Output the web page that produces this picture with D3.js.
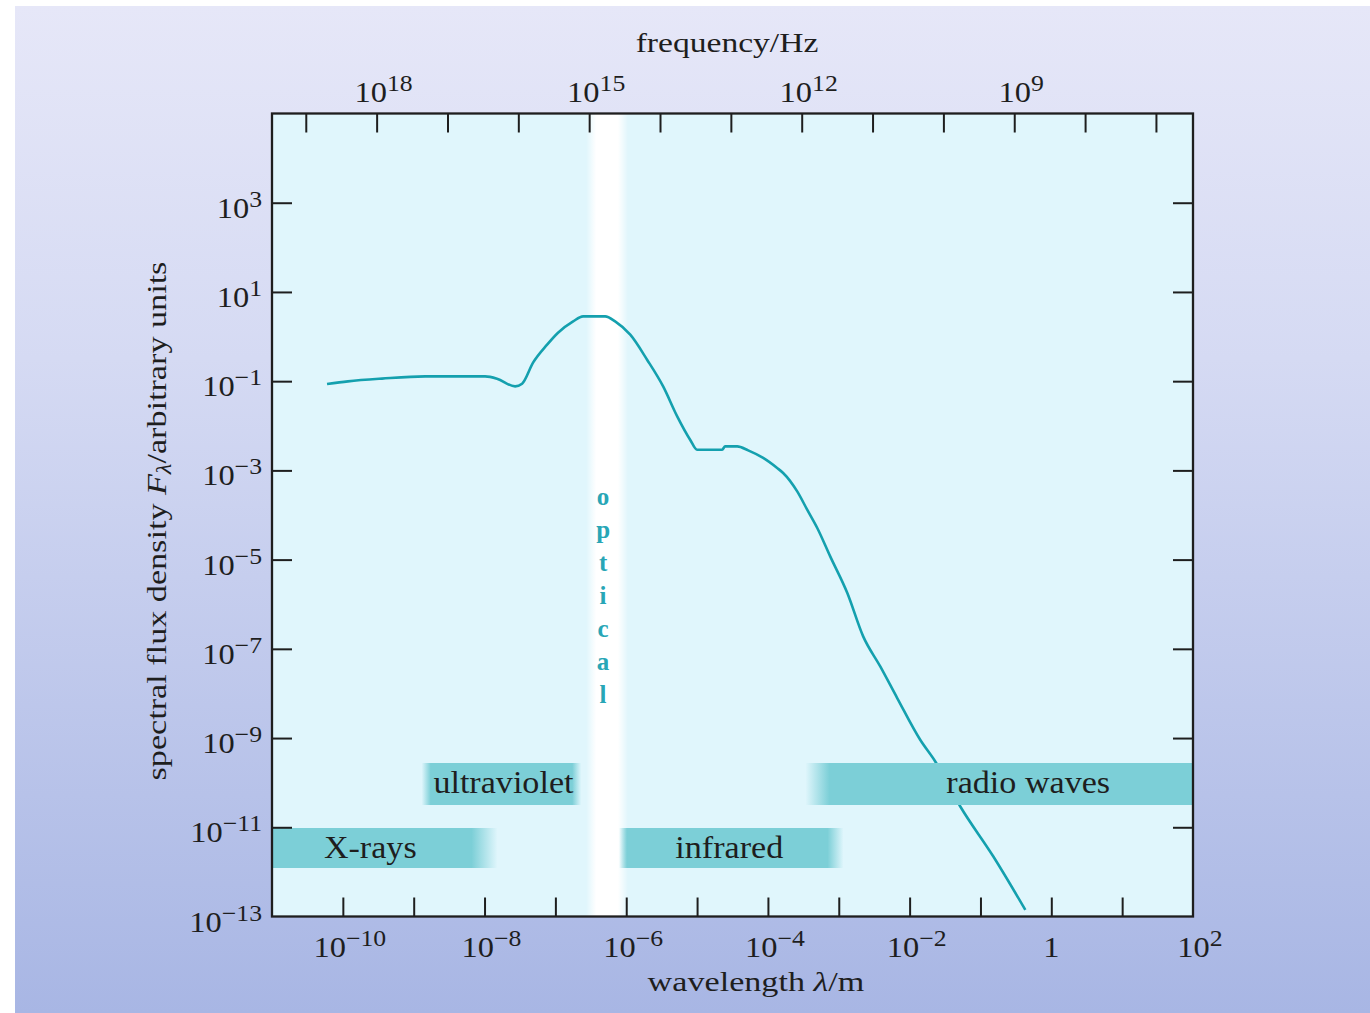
<!DOCTYPE html>
<html>
<head>
<meta charset="utf-8">
<script src="https://cdn.jsdelivr.net/npm/d3@7"></script>
<style>
  html, body { margin: 0; padding: 0; background: #ffffff; }
  svg { display: block; }
</style>
</head>
<body>
<svg id="chart" width="1370" height="1013"></svg>
<script>
// Spectral energy distribution: wavelength (m) against spectral flux density (arbitrary units)
const wavelength = [
  5.98e-11, 1.18e-10, 3.57e-10, 1.45e-9, 1.02e-8, 1.50e-8, 2.70e-8, 3.39e-8,
  4.84e-8, 7.64e-8, 1.09e-7, 1.78e-7, 2.46e-7, 5.04e-7, 6.97e-7, 1.14e-6,
  1.97e-6, 3.32e-6, 5.24e-6, 7.98e-6, 1.00e-5, 2.26e-5, 2.49e-5, 3.68e-5,
  5.26e-5, 8.57e-5, 1.35e-4, 1.64e-4, 2.59e-4, 3.58e-4, 4.97e-4, 7.57e-4,
  1.32e-3, 2.21e-3, 3.85e-3, 6.68e-3, 1.41e-2, 2.30e-2, 5.19e-2, 0.152, 0.430
];
const flux = [
  0.0865, 0.0991, 0.114, 0.128, 0.128, 0.114, 0.0764, 0.0877,
  0.260, 0.658, 1.22, 2.19, 2.84, 2.84, 2.19, 1.10,
  0.303, 0.0764, 0.0163, 4.88e-3, 2.91e-3, 2.91e-3, 3.45e-3, 3.45e-3,
  2.81e-3, 1.90e-3, 1.13e-3, 8.75e-4, 3.38e-4, 1.32e-4, 5.12e-5, 1.18e-5,
  1.78e-6, 1.90e-7, 4.03e-8, 7.89e-9, 9.16e-10, 2.99e-10, 2.92e-11, 2.21e-12, 1.41e-13
];

// Named regions of the spectrum (wavelength limits in m)
const bandNames = ["X-rays", "ultraviolet", "infrared", "radio waves"];
const bandFrom  = [1e-11, 1.5e-9, 9e-7, 5e-4];
const bandTo    = [1e-8, 2e-7, 9e-4, 1e2];
const opticalRange = [3.2e-7, 9e-7];
const opticalName = "optical";

// Axis ticks
const wavelengthDomain = [1e-11, 1e2];
const fluxDomain = [1e-13, 1e5];
const wavelengthTicks = [1e-10, 1e-9, 1e-8, 1e-7, 1e-6, 1e-5, 1e-4, 1e-3, 1e-2, 1e-1, 1, 10];
const wavelengthLabels = [1e-10, 1e-8, 1e-6, 1e-4, 1e-2, 1, 1e2];
const fluxTicks = [1e3, 1e1, 1e-1, 1e-3, 1e-5, 1e-7, 1e-9, 1e-11];
const fluxLabels = [1e3, 1e1, 1e-1, 1e-3, 1e-5, 1e-7, 1e-9, 1e-11, 1e-13];
const frequencyTicks = [1e19, 1e18, 1e17, 1e16, 1e15, 1e14, 1e13, 1e12, 1e11, 1e10, 1e9, 1e8, 1e7];
const frequencyLabels = [1e18, 1e15, 1e12, 1e9];
const SPEED_OF_LIGHT = 2.998e8;

// ---------------------------------------------------------------------------
const svg = d3.select("#chart");
const W = 1370, H = 1013;
const margin = { left: 272, top: 113.5, right: 1370 - 1193, bottom: 1013 - 916.5 };
const pw = W - margin.left - margin.right;
const ph = H - margin.top - margin.bottom;

const serif = "'Liberation Serif', 'Times New Roman', serif";
const ink = "#1e1e1e";
const teal = "#7ccfd7";
const curveColour = "#14a0ae";

const defs = svg.append("defs");

// Panel background
const bg = defs.append("linearGradient").attr("id", "panelGrad")
  .attr("x1", 0).attr("y1", 0).attr("x2", 0).attr("y2", 1);
bg.append("stop").attr("offset", 0).attr("stop-color", "#e6e7f8");
bg.append("stop").attr("offset", 0.35).attr("stop-color", "#d5daf3");
bg.append("stop").attr("offset", 1).attr("stop-color", "#a8b6e4");
svg.append("rect").attr("x", 15).attr("y", 6).attr("width", W - 15).attr("height", H - 6)
  .attr("fill", "url(#panelGrad)");

const x = d3.scaleLog().domain(wavelengthDomain).range([0, pw]);
const y = d3.scaleLog().domain(fluxDomain).range([ph, 0]);
const nu = d3.scaleLog()
  .domain([SPEED_OF_LIGHT / wavelengthDomain[0], SPEED_OF_LIGHT / wavelengthDomain[1]])
  .range([0, pw]);

const g = svg.append("g").attr("transform", `translate(${margin.left},${margin.top})`);

defs.append("clipPath").attr("id", "plotClip")
  .append("rect").attr("width", pw).attr("height", ph);

g.append("rect").attr("width", pw).attr("height", ph).attr("fill", "#e0f6fc");

const plot = g.append("g").attr("clip-path", "url(#plotClip)");

// Horizontal strip with soft ends
function softStrip(id, x0, x1, fadeL, fadeR, colour) {
  const a = x0 - fadeL / 2, b = x1 + fadeR / 2, w = b - a;
  const grad = defs.append("linearGradient").attr("id", id)
    .attr("gradientUnits", "userSpaceOnUse")
    .attr("x1", a).attr("y1", 0).attr("x2", b).attr("y2", 0);
  grad.append("stop").attr("offset", 0).attr("stop-color", colour).attr("stop-opacity", fadeL > 0 ? 0 : 1);
  grad.append("stop").attr("offset", fadeL / w).attr("stop-color", colour).attr("stop-opacity", 1);
  grad.append("stop").attr("offset", 1 - fadeR / w).attr("stop-color", colour).attr("stop-opacity", 1);
  grad.append("stop").attr("offset", 1).attr("stop-color", colour).attr("stop-opacity", fadeR > 0 ? 0 : 1);
  return { a, w };
}

// Optical window
const opt = softStrip("optGrad", x(opticalRange[0]), x(opticalRange[1]), 10, 10, "#ffffff");
plot.append("rect").attr("x", opt.a).attr("y", 0).attr("width", opt.w).attr("height", ph)
  .attr("fill", "url(#optGrad)");

// Spectrum curve
const line = d3.line()
  .x((d, i) => x(wavelength[i]))
  .y((d, i) => y(flux[i]))
  .curve(d3.curveMonotoneX);
plot.append("path").datum(wavelength)
  .attr("d", line)
  .attr("fill", "none")
  .attr("stroke", curveColour)
  .attr("stroke-width", 2.6)
  .attr("stroke-linejoin", "round");

// Region bars
const bandRow = [1, 0, 1, 0];
const rowTop = [649.5, 714.5], rowHeight = [42, 40];
const fades = [[0, 26], [9, 9], [8, 16], [24, 0]];
const labelShift = [-8, 2, 0, 23];
const rowBaseline = [679.5, 744.5];

bandNames.forEach((name, i) => {
  const x0 = x(bandFrom[i]), x1 = x(bandTo[i]);
  const s = softStrip("band" + i, x0, x1, fades[i][0], fades[i][1], teal);
  plot.append("rect").attr("x", s.a).attr("y", rowTop[bandRow[i]])
    .attr("width", s.w).attr("height", rowHeight[bandRow[i]])
    .attr("fill", `url(#band${i})`);
});

function stretchedText(parent, tx, ty, sx, rot) {
  return parent.append("g")
    .attr("transform", `translate(${tx},${ty}) rotate(${rot}) scale(${sx},1)`)
    .append("text")
    .attr("text-anchor", "middle")
    .attr("font-family", serif)
    .attr("fill", ink);
}

bandNames.forEach((name, i) => {
  const cx = (x(bandFrom[i]) + x(bandTo[i])) / 2 + labelShift[i];
  stretchedText(g, cx, rowBaseline[bandRow[i]], 1.1, 0)
    .attr("font-size", 31)
    .text(name);
});

// Vertical "optical" lettering
const optCx = (x(opticalRange[0]) + x(opticalRange[1])) / 2 - 4;
opticalName.split("").forEach((ch, i) => {
  g.append("text")
    .attr("x", optCx).attr("y", 505 - margin.top + i * 33)
    .attr("text-anchor", "middle")
    .attr("font-family", serif)
    .attr("font-weight", "bold")
    .attr("font-size", 25)
    .attr("fill", "#28a6b6")
    .text(ch);
});

// Frame and ticks
g.append("rect").attr("width", pw).attr("height", ph)
  .attr("fill", "none").attr("stroke", ink).attr("stroke-width", 2.3);

function styleAxis(sel) {
  sel.select(".domain").remove();
  sel.selectAll(".tick line").attr("stroke", ink).attr("stroke-width", 2);
  sel.selectAll(".tick text").remove();
}
g.append("g").attr("transform", `translate(0,${ph})`)
  .call(d3.axisBottom(x).tickValues(wavelengthTicks).tickSize(-19).tickFormat(""))
  .call(styleAxis);
g.append("g")
  .call(d3.axisTop(nu).tickValues(frequencyTicks).tickSize(-19).tickFormat(""))
  .call(styleAxis);
g.append("g")
  .call(d3.axisLeft(y).tickValues(fluxTicks).tickSize(-20).tickFormat(""))
  .call(styleAxis);
g.append("g").attr("transform", `translate(${pw},0)`)
  .call(d3.axisRight(y).tickValues(fluxTicks).tickSize(-20).tickFormat(""))
  .call(styleAxis);

// Power-of-ten labels
function powerLabel(parent, v, px, py, anchor) {
  const e = Math.round(Math.log10(v));
  const t = parent.append("g")
    .attr("transform", `translate(${px},${py}) scale(1.12,1)`)
    .append("text")
    .attr("text-anchor", anchor)
    .attr("font-family", serif)
    .attr("font-size", 29)
    .attr("fill", ink);
  if (e === 0) { t.text("1"); return t; }
  t.append("tspan").text("10");
  t.append("tspan").attr("dy", -11).attr("font-size", 23)
    .text(String(e).replace("-", "\u2212"));
  return t;
}

wavelengthLabels.forEach(v => {
  const e = Math.round(Math.log10(v));
  powerLabel(g, v, x(v) + (e === 0 ? 0 : 7), 956.5 - margin.top, "middle");
});
frequencyLabels.forEach(v => {
  powerLabel(g, v, nu(v) + 7, 101.5 - margin.top, "middle");
});
fluxLabels.forEach(v => {
  powerLabel(g, v, 262 - margin.left, y(v) + 15, "end");
});

// Axis titles
stretchedText(svg, 727, 51.5, 1.2, 0).attr("font-size", 28).text("frequency/Hz");

const xt = stretchedText(svg, 756, 991, 1.22, 0).attr("font-size", 28);
xt.append("tspan").text("wavelength ");
xt.append("tspan").attr("font-style", "italic").text("\u03bb");
xt.append("tspan").text("/m");

const yt = stretchedText(svg, 166, 521, 1.22, -90).attr("font-size", 28);
yt.append("tspan").text("spectral flux density ");
yt.append("tspan").attr("font-style", "italic").text("F");
yt.append("tspan").attr("font-style", "italic").attr("font-size", 20).attr("dy", 5).text("\u03bb");
yt.append("tspan").attr("dy", -5).text("/arbitrary units");
</script>
</body>
</html>
